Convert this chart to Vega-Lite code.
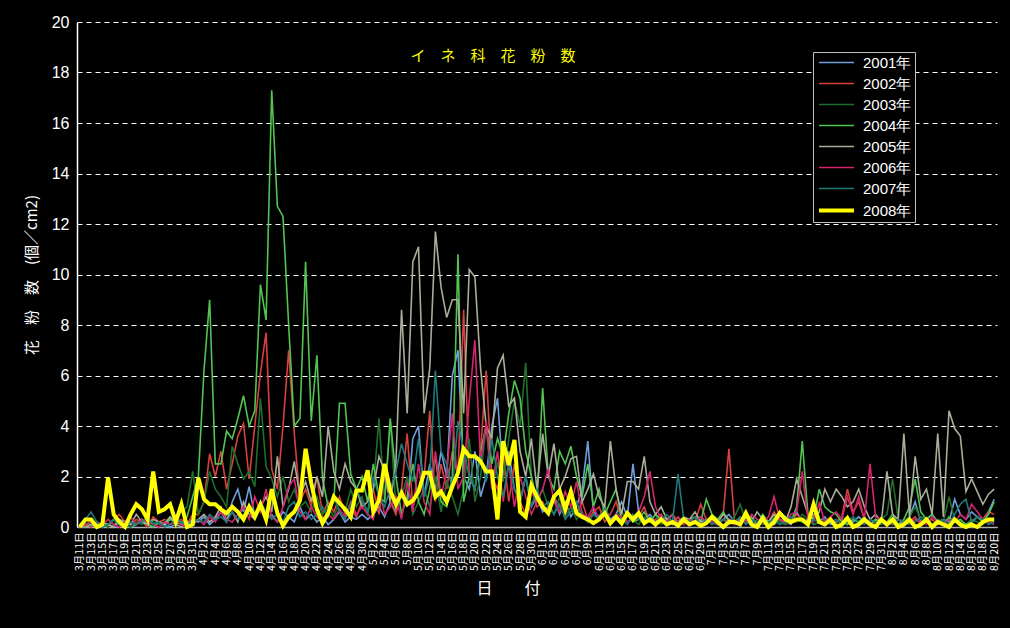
{
"$schema":"https://vega.github.io/schema/vega-lite/v6.json",
"width":920,"height":505,"autosize":"none",
"padding":{"left":77,"top":22,"right":13,"bottom":101},
"background":"#000000",
"config":{"view":{"stroke":null},"font":"Liberation Sans"},
"title":{"text":"イ　ネ　科　花　粉　数","color":"#ffff00","fontSize":15,"font":"Noto Sans CJK JP","fontWeight":"normal","anchor":"middle","frame":"group","offset":-50,"dx":-44},
"data":{"values":[
{"s":2001,"d":"3/11","v":0},{"s":2001,"d":"3/12","v":0.1},{"s":2001,"d":"3/13","v":0},{"s":2001,"d":"3/14","v":0.2},{"s":2001,"d":"3/15","v":0},{"s":2001,"d":"3/16","v":0.1},{"s":2001,"d":"3/17","v":0},{"s":2001,"d":"3/18","v":0.2},{"s":2001,"d":"3/19","v":0.1},{"s":2001,"d":"3/20","v":0},{"s":2001,"d":"3/21","v":0.1},{"s":2001,"d":"3/22","v":0.3},{"s":2001,"d":"3/23","v":0.1},{"s":2001,"d":"3/24","v":0},{"s":2001,"d":"3/25","v":0.2},{"s":2001,"d":"3/26","v":0.1},{"s":2001,"d":"3/27","v":0},{"s":2001,"d":"3/28","v":0.1},{"s":2001,"d":"3/29","v":0.2},{"s":2001,"d":"3/30","v":0.1},{"s":2001,"d":"3/31","v":0.3},
{"s":2001,"d":"4/1","v":0.2},{"s":2001,"d":"4/2","v":0.4},{"s":2001,"d":"4/3","v":0.1},{"s":2001,"d":"4/4","v":0.3},{"s":2001,"d":"4/5","v":0.6},{"s":2001,"d":"4/6","v":0.2},{"s":2001,"d":"4/7","v":1.0},{"s":2001,"d":"4/8","v":1.5},{"s":2001,"d":"4/9","v":0.6},{"s":2001,"d":"4/10","v":1.6},{"s":2001,"d":"4/11","v":0.4},{"s":2001,"d":"4/12","v":0.8},{"s":2001,"d":"4/13","v":0.3},{"s":2001,"d":"4/14","v":0.5},{"s":2001,"d":"4/15","v":0.2},{"s":2001,"d":"4/16","v":0.6},{"s":2001,"d":"4/17","v":0.4},{"s":2001,"d":"4/18","v":0.2},{"s":2001,"d":"4/19","v":0.8},{"s":2001,"d":"4/20","v":0.3},{"s":2001,"d":"4/21","v":0.5},{"s":2001,"d":"4/22","v":0.2},{"s":2001,"d":"4/23","v":0.4},{"s":2001,"d":"4/24","v":0.1},{"s":2001,"d":"4/25","v":0.3},{"s":2001,"d":"4/26","v":0.6},{"s":2001,"d":"4/27","v":0.2},{"s":2001,"d":"4/28","v":0.4},{"s":2001,"d":"4/29","v":0.3},{"s":2001,"d":"4/30","v":0.5},
{"s":2001,"d":"5/1","v":0.3},{"s":2001,"d":"5/2","v":0.5},{"s":2001,"d":"5/3","v":0.8},{"s":2001,"d":"5/4","v":0.4},{"s":2001,"d":"5/5","v":1.0},{"s":2001,"d":"5/6","v":0.6},{"s":2001,"d":"5/7","v":1.5},{"s":2001,"d":"5/8","v":0.8},{"s":2001,"d":"5/9","v":3.5},{"s":2001,"d":"5/10","v":4.0},{"s":2001,"d":"5/11","v":1.2},{"s":2001,"d":"5/12","v":2.5},{"s":2001,"d":"5/13","v":1.5},{"s":2001,"d":"5/14","v":3.0},{"s":2001,"d":"5/15","v":2.0},{"s":2001,"d":"5/16","v":6.0},{"s":2001,"d":"5/17","v":7.0},{"s":2001,"d":"5/18","v":2.0},{"s":2001,"d":"5/19","v":1.5},{"s":2001,"d":"5/20","v":3.0},{"s":2001,"d":"5/21","v":1.2},{"s":2001,"d":"5/22","v":2.0},{"s":2001,"d":"5/23","v":4.0},{"s":2001,"d":"5/24","v":5.1},{"s":2001,"d":"5/25","v":2.0},{"s":2001,"d":"5/26","v":3.0},{"s":2001,"d":"5/27","v":1.5},{"s":2001,"d":"5/28","v":1.0},{"s":2001,"d":"5/29","v":2.0},{"s":2001,"d":"5/30","v":0.8},{"s":2001,"d":"5/31","v":1.2},
{"s":2001,"d":"6/1","v":0.6},{"s":2001,"d":"6/2","v":0.8},{"s":2001,"d":"6/3","v":1.2},{"s":2001,"d":"6/4","v":0.5},{"s":2001,"d":"6/5","v":1.0},{"s":2001,"d":"6/6","v":0.4},{"s":2001,"d":"6/7","v":0.8},{"s":2001,"d":"6/8","v":1.5},{"s":2001,"d":"6/9","v":3.4},{"s":2001,"d":"6/10","v":0.6},{"s":2001,"d":"6/11","v":0.4},{"s":2001,"d":"6/12","v":0.8},{"s":2001,"d":"6/13","v":0.3},{"s":2001,"d":"6/14","v":0.5},{"s":2001,"d":"6/15","v":1.0},{"s":2001,"d":"6/16","v":0.4},{"s":2001,"d":"6/17","v":2.5},{"s":2001,"d":"6/18","v":0.6},{"s":2001,"d":"6/19","v":0.3},{"s":2001,"d":"6/20","v":0.5},{"s":2001,"d":"6/21","v":0.2},{"s":2001,"d":"6/22","v":0.4},{"s":2001,"d":"6/23","v":0.3},{"s":2001,"d":"6/24","v":0.1},{"s":2001,"d":"6/25","v":0.2},{"s":2001,"d":"6/26","v":0.3},{"s":2001,"d":"6/27","v":0.1},{"s":2001,"d":"6/28","v":0.2},{"s":2001,"d":"6/29","v":0.4},{"s":2001,"d":"6/30","v":0.2},
{"s":2001,"d":"7/1","v":0.2},{"s":2001,"d":"7/2","v":0.1},{"s":2001,"d":"7/3","v":0.3},{"s":2001,"d":"7/4","v":0.5},{"s":2001,"d":"7/5","v":0.2},{"s":2001,"d":"7/6","v":0.1},{"s":2001,"d":"7/7","v":0.3},{"s":2001,"d":"7/8","v":0.2},{"s":2001,"d":"7/9","v":0.1},{"s":2001,"d":"7/10","v":0.4},{"s":2001,"d":"7/11","v":0.2},{"s":2001,"d":"7/12","v":0.1},{"s":2001,"d":"7/13","v":0.3},{"s":2001,"d":"7/14","v":0.2},{"s":2001,"d":"7/15","v":0.1},{"s":2001,"d":"7/16","v":0.6},{"s":2001,"d":"7/17","v":0.2},{"s":2001,"d":"7/18","v":0.3},{"s":2001,"d":"7/19","v":0.1},{"s":2001,"d":"7/20","v":0.2},{"s":2001,"d":"7/21","v":0.4},{"s":2001,"d":"7/22","v":0.1},{"s":2001,"d":"7/23","v":0.2},{"s":2001,"d":"7/24","v":0.3},{"s":2001,"d":"7/25","v":0.1},{"s":2001,"d":"7/26","v":0.2},{"s":2001,"d":"7/27","v":0.4},{"s":2001,"d":"7/28","v":0.2},{"s":2001,"d":"7/29","v":0.1},{"s":2001,"d":"7/30","v":0.3},{"s":2001,"d":"7/31","v":0.2},
{"s":2001,"d":"8/1","v":0.2},{"s":2001,"d":"8/2","v":0.3},{"s":2001,"d":"8/3","v":0.1},{"s":2001,"d":"8/4","v":0.2},{"s":2001,"d":"8/5","v":0.4},{"s":2001,"d":"8/6","v":1.0},{"s":2001,"d":"8/7","v":0.2},{"s":2001,"d":"8/8","v":0.3},{"s":2001,"d":"8/9","v":0.5},{"s":2001,"d":"8/10","v":0.2},{"s":2001,"d":"8/11","v":0.3},{"s":2001,"d":"8/12","v":0.2},{"s":2001,"d":"8/13","v":1.1},{"s":2001,"d":"8/14","v":0.5},{"s":2001,"d":"8/15","v":0.3},{"s":2001,"d":"8/16","v":0.6},{"s":2001,"d":"8/17","v":0.4},{"s":2001,"d":"8/18","v":0.3},{"s":2001,"d":"8/19","v":0.6},{"s":2001,"d":"8/20","v":1.1},
{"s":2002,"d":"3/11","v":0},{"s":2002,"d":"3/12","v":0.1},{"s":2002,"d":"3/13","v":0},{"s":2002,"d":"3/14","v":0.2},{"s":2002,"d":"3/15","v":0.1},{"s":2002,"d":"3/16","v":0},{"s":2002,"d":"3/17","v":0.3},{"s":2002,"d":"3/18","v":0.5},{"s":2002,"d":"3/19","v":0.2},{"s":2002,"d":"3/20","v":0.1},{"s":2002,"d":"3/21","v":0.3},{"s":2002,"d":"3/22","v":0.2},{"s":2002,"d":"3/23","v":0},{"s":2002,"d":"3/24","v":0.4},{"s":2002,"d":"3/25","v":0.2},{"s":2002,"d":"3/26","v":0.3},{"s":2002,"d":"3/27","v":0.1},{"s":2002,"d":"3/28","v":0.2},{"s":2002,"d":"3/29","v":0.3},{"s":2002,"d":"3/30","v":0.1},{"s":2002,"d":"3/31","v":0.5},
{"s":2002,"d":"4/1","v":0.5},{"s":2002,"d":"4/2","v":1.0},{"s":2002,"d":"4/3","v":2.9},{"s":2002,"d":"4/4","v":2.0},{"s":2002,"d":"4/5","v":3.0},{"s":2002,"d":"4/6","v":1.5},{"s":2002,"d":"4/7","v":2.5},{"s":2002,"d":"4/8","v":3.6},{"s":2002,"d":"4/9","v":4.1},{"s":2002,"d":"4/10","v":1.9},{"s":2002,"d":"4/11","v":4.0},{"s":2002,"d":"4/12","v":6.1},{"s":2002,"d":"4/13","v":7.7},{"s":2002,"d":"4/14","v":2.3},{"s":2002,"d":"4/15","v":1.5},{"s":2002,"d":"4/16","v":4.0},{"s":2002,"d":"4/17","v":7.0},{"s":2002,"d":"4/18","v":3.7},{"s":2002,"d":"4/19","v":1.0},{"s":2002,"d":"4/20","v":1.5},{"s":2002,"d":"4/21","v":0.8},{"s":2002,"d":"4/22","v":2.0},{"s":2002,"d":"4/23","v":0.5},{"s":2002,"d":"4/24","v":1.0},{"s":2002,"d":"4/25","v":0.6},{"s":2002,"d":"4/26","v":1.2},{"s":2002,"d":"4/27","v":0.5},{"s":2002,"d":"4/28","v":0.8},{"s":2002,"d":"4/29","v":0.4},{"s":2002,"d":"4/30","v":1.0},
{"s":2002,"d":"5/1","v":0.6},{"s":2002,"d":"5/2","v":1.5},{"s":2002,"d":"5/3","v":0.5},{"s":2002,"d":"5/4","v":2.0},{"s":2002,"d":"5/5","v":1.0},{"s":2002,"d":"5/6","v":0.5},{"s":2002,"d":"5/7","v":1.5},{"s":2002,"d":"5/8","v":3.7},{"s":2002,"d":"5/9","v":0.8},{"s":2002,"d":"5/10","v":1.5},{"s":2002,"d":"5/11","v":2.0},{"s":2002,"d":"5/12","v":4.6},{"s":2002,"d":"5/13","v":1.0},{"s":2002,"d":"5/14","v":2.5},{"s":2002,"d":"5/15","v":1.5},{"s":2002,"d":"5/16","v":3.0},{"s":2002,"d":"5/17","v":2.0},{"s":2002,"d":"5/18","v":8.6},{"s":2002,"d":"5/19","v":2.0},{"s":2002,"d":"5/20","v":1.5},{"s":2002,"d":"5/21","v":3.0},{"s":2002,"d":"5/22","v":6.2},{"s":2002,"d":"5/23","v":2.0},{"s":2002,"d":"5/24","v":1.5},{"s":2002,"d":"5/25","v":3.0},{"s":2002,"d":"5/26","v":1.0},{"s":2002,"d":"5/27","v":2.5},{"s":2002,"d":"5/28","v":1.0},{"s":2002,"d":"5/29","v":0.5},{"s":2002,"d":"5/30","v":1.5},{"s":2002,"d":"5/31","v":0.8},
{"s":2002,"d":"6/1","v":1.0},{"s":2002,"d":"6/2","v":0.5},{"s":2002,"d":"6/3","v":1.2},{"s":2002,"d":"6/4","v":0.8},{"s":2002,"d":"6/5","v":0.4},{"s":2002,"d":"6/6","v":1.6},{"s":2002,"d":"6/7","v":0.5},{"s":2002,"d":"6/8","v":1.0},{"s":2002,"d":"6/9","v":0.3},{"s":2002,"d":"6/10","v":0.6},{"s":2002,"d":"6/11","v":0.8},{"s":2002,"d":"6/12","v":0.2},{"s":2002,"d":"6/13","v":0.5},{"s":2002,"d":"6/14","v":1.0},{"s":2002,"d":"6/15","v":0.3},{"s":2002,"d":"6/16","v":0.6},{"s":2002,"d":"6/17","v":0.2},{"s":2002,"d":"6/18","v":0.4},{"s":2002,"d":"6/19","v":0.8},{"s":2002,"d":"6/20","v":0.2},{"s":2002,"d":"6/21","v":0.3},{"s":2002,"d":"6/22","v":0.5},{"s":2002,"d":"6/23","v":0.1},{"s":2002,"d":"6/24","v":0.2},{"s":2002,"d":"6/25","v":0.4},{"s":2002,"d":"6/26","v":0.1},{"s":2002,"d":"6/27","v":0.3},{"s":2002,"d":"6/28","v":0.2},{"s":2002,"d":"6/29","v":0.9},{"s":2002,"d":"6/30","v":0.3},
{"s":2002,"d":"7/1","v":0.3},{"s":2002,"d":"7/2","v":0.2},{"s":2002,"d":"7/3","v":0.5},{"s":2002,"d":"7/4","v":3.1},{"s":2002,"d":"7/5","v":0.2},{"s":2002,"d":"7/6","v":0.1},{"s":2002,"d":"7/7","v":0.3},{"s":2002,"d":"7/8","v":0.2},{"s":2002,"d":"7/9","v":0.1},{"s":2002,"d":"7/10","v":0.4},{"s":2002,"d":"7/11","v":0.2},{"s":2002,"d":"7/12","v":0.6},{"s":2002,"d":"7/13","v":0.3},{"s":2002,"d":"7/14","v":0.1},{"s":2002,"d":"7/15","v":0.2},{"s":2002,"d":"7/16","v":0.5},{"s":2002,"d":"7/17","v":0.3},{"s":2002,"d":"7/18","v":0.2},{"s":2002,"d":"7/19","v":0.5},{"s":2002,"d":"7/20","v":0.2},{"s":2002,"d":"7/21","v":0.1},{"s":2002,"d":"7/22","v":0.3},{"s":2002,"d":"7/23","v":0.2},{"s":2002,"d":"7/24","v":0.4},{"s":2002,"d":"7/25","v":1.5},{"s":2002,"d":"7/26","v":0.6},{"s":2002,"d":"7/27","v":1.0},{"s":2002,"d":"7/28","v":0.3},{"s":2002,"d":"7/29","v":0.2},{"s":2002,"d":"7/30","v":0.1},{"s":2002,"d":"7/31","v":0.2},
{"s":2002,"d":"8/1","v":0.2},{"s":2002,"d":"8/2","v":0.1},{"s":2002,"d":"8/3","v":0.3},{"s":2002,"d":"8/4","v":0.1},{"s":2002,"d":"8/5","v":0.2},{"s":2002,"d":"8/6","v":0.4},{"s":2002,"d":"8/7","v":0.1},{"s":2002,"d":"8/8","v":0.2},{"s":2002,"d":"8/9","v":0.3},{"s":2002,"d":"8/10","v":0.1},{"s":2002,"d":"8/11","v":0.2},{"s":2002,"d":"8/12","v":0.1},{"s":2002,"d":"8/13","v":0.3},{"s":2002,"d":"8/14","v":0.2},{"s":2002,"d":"8/15","v":0.1},{"s":2002,"d":"8/16","v":0.2},{"s":2002,"d":"8/17","v":0.4},{"s":2002,"d":"8/18","v":0.3},{"s":2002,"d":"8/19","v":0.6},{"s":2002,"d":"8/20","v":0.5},
{"s":2003,"d":"3/11","v":0},{"s":2003,"d":"3/12","v":0},{"s":2003,"d":"3/13","v":0.1},{"s":2003,"d":"3/14","v":0},{"s":2003,"d":"3/15","v":0.2},{"s":2003,"d":"3/16","v":0},{"s":2003,"d":"3/17","v":0.1},{"s":2003,"d":"3/18","v":0.3},{"s":2003,"d":"3/19","v":0.1},{"s":2003,"d":"3/20","v":0},{"s":2003,"d":"3/21","v":0.2},{"s":2003,"d":"3/22","v":0.1},{"s":2003,"d":"3/23","v":0.3},{"s":2003,"d":"3/24","v":0.2},{"s":2003,"d":"3/25","v":0.1},{"s":2003,"d":"3/26","v":0.2},{"s":2003,"d":"3/27","v":0.4},{"s":2003,"d":"3/28","v":0.3},{"s":2003,"d":"3/29","v":0.6},{"s":2003,"d":"3/30","v":0.8},{"s":2003,"d":"3/31","v":2.2},
{"s":2003,"d":"4/1","v":0.5},{"s":2003,"d":"4/2","v":1.0},{"s":2003,"d":"4/3","v":2.2},{"s":2003,"d":"4/4","v":1.5},{"s":2003,"d":"4/5","v":1.2},{"s":2003,"d":"4/6","v":0.8},{"s":2003,"d":"4/7","v":3.2},{"s":2003,"d":"4/8","v":2.5},{"s":2003,"d":"4/9","v":1.9},{"s":2003,"d":"4/10","v":2.2},{"s":2003,"d":"4/11","v":1.6},{"s":2003,"d":"4/12","v":5.1},{"s":2003,"d":"4/13","v":2.4},{"s":2003,"d":"4/14","v":1.9},{"s":2003,"d":"4/15","v":1.2},{"s":2003,"d":"4/16","v":2.0},{"s":2003,"d":"4/17","v":1.0},{"s":2003,"d":"4/18","v":1.5},{"s":2003,"d":"4/19","v":0.8},{"s":2003,"d":"4/20","v":1.0},{"s":2003,"d":"4/21","v":0.6},{"s":2003,"d":"4/22","v":1.2},{"s":2003,"d":"4/23","v":0.5},{"s":2003,"d":"4/24","v":0.8},{"s":2003,"d":"4/25","v":0.4},{"s":2003,"d":"4/26","v":1.0},{"s":2003,"d":"4/27","v":0.6},{"s":2003,"d":"4/28","v":1.5},{"s":2003,"d":"4/29","v":0.8},{"s":2003,"d":"4/30","v":1.2},
{"s":2003,"d":"5/1","v":0.5},{"s":2003,"d":"5/2","v":1.5},{"s":2003,"d":"5/3","v":4.3},{"s":2003,"d":"5/4","v":1.0},{"s":2003,"d":"5/5","v":4.2},{"s":2003,"d":"5/6","v":0.8},{"s":2003,"d":"5/7","v":1.2},{"s":2003,"d":"5/8","v":2.0},{"s":2003,"d":"5/9","v":0.5},{"s":2003,"d":"5/10","v":1.0},{"s":2003,"d":"5/11","v":1.5},{"s":2003,"d":"5/12","v":0.8},{"s":2003,"d":"5/13","v":2.0},{"s":2003,"d":"5/14","v":0.6},{"s":2003,"d":"5/15","v":1.8},{"s":2003,"d":"5/16","v":1.2},{"s":2003,"d":"5/17","v":0.5},{"s":2003,"d":"5/18","v":1.5},{"s":2003,"d":"5/19","v":3.5},{"s":2003,"d":"5/20","v":1.0},{"s":2003,"d":"5/21","v":2.0},{"s":2003,"d":"5/22","v":4.0},{"s":2003,"d":"5/23","v":1.5},{"s":2003,"d":"5/24","v":2.5},{"s":2003,"d":"5/25","v":1.8},{"s":2003,"d":"5/26","v":3.5},{"s":2003,"d":"5/27","v":5.0},{"s":2003,"d":"5/28","v":4.0},{"s":2003,"d":"5/29","v":6.5},{"s":2003,"d":"5/30","v":2.0},{"s":2003,"d":"5/31","v":1.0},
{"s":2003,"d":"6/1","v":1.5},{"s":2003,"d":"6/2","v":0.8},{"s":2003,"d":"6/3","v":0.5},{"s":2003,"d":"6/4","v":1.2},{"s":2003,"d":"6/5","v":0.4},{"s":2003,"d":"6/6","v":0.8},{"s":2003,"d":"6/7","v":0.3},{"s":2003,"d":"6/8","v":0.6},{"s":2003,"d":"6/9","v":0.2},{"s":2003,"d":"6/10","v":0.5},{"s":2003,"d":"6/11","v":0.3},{"s":2003,"d":"6/12","v":0.8},{"s":2003,"d":"6/13","v":0.2},{"s":2003,"d":"6/14","v":0.4},{"s":2003,"d":"6/15","v":0.6},{"s":2003,"d":"6/16","v":0.2},{"s":2003,"d":"6/17","v":0.3},{"s":2003,"d":"6/18","v":0.1},{"s":2003,"d":"6/19","v":0.4},{"s":2003,"d":"6/20","v":0.2},{"s":2003,"d":"6/21","v":0.5},{"s":2003,"d":"6/22","v":0.1},{"s":2003,"d":"6/23","v":0.3},{"s":2003,"d":"6/24","v":0.2},{"s":2003,"d":"6/25","v":0.1},{"s":2003,"d":"6/26","v":0.3},{"s":2003,"d":"6/27","v":0.2},{"s":2003,"d":"6/28","v":0.4},{"s":2003,"d":"6/29","v":0.1},{"s":2003,"d":"6/30","v":0.2},
{"s":2003,"d":"7/1","v":0.2},{"s":2003,"d":"7/2","v":0.1},{"s":2003,"d":"7/3","v":0.3},{"s":2003,"d":"7/4","v":0.2},{"s":2003,"d":"7/5","v":0.4},{"s":2003,"d":"7/6","v":0.9},{"s":2003,"d":"7/7","v":0.2},{"s":2003,"d":"7/8","v":0.1},{"s":2003,"d":"7/9","v":0.3},{"s":2003,"d":"7/10","v":0.2},{"s":2003,"d":"7/11","v":0.1},{"s":2003,"d":"7/12","v":0.4},{"s":2003,"d":"7/13","v":0.2},{"s":2003,"d":"7/14","v":0.1},{"s":2003,"d":"7/15","v":0.3},{"s":2003,"d":"7/16","v":0.2},{"s":2003,"d":"7/17","v":0.5},{"s":2003,"d":"7/18","v":0.3},{"s":2003,"d":"7/19","v":0.1},{"s":2003,"d":"7/20","v":0.2},{"s":2003,"d":"7/21","v":0.3},{"s":2003,"d":"7/22","v":0.2},{"s":2003,"d":"7/23","v":0.1},{"s":2003,"d":"7/24","v":0.4},{"s":2003,"d":"7/25","v":0.3},{"s":2003,"d":"7/26","v":0.1},{"s":2003,"d":"7/27","v":0.2},{"s":2003,"d":"7/28","v":0.3},{"s":2003,"d":"7/29","v":0.1},{"s":2003,"d":"7/30","v":0.2},{"s":2003,"d":"7/31","v":0.3},
{"s":2003,"d":"8/1","v":0.5},{"s":2003,"d":"8/2","v":1.9},{"s":2003,"d":"8/3","v":0.3},{"s":2003,"d":"8/4","v":0.2},{"s":2003,"d":"8/5","v":0.4},{"s":2003,"d":"8/6","v":0.8},{"s":2003,"d":"8/7","v":0.3},{"s":2003,"d":"8/8","v":0.2},{"s":2003,"d":"8/9","v":0.1},{"s":2003,"d":"8/10","v":0.3},{"s":2003,"d":"8/11","v":0.2},{"s":2003,"d":"8/12","v":1.2},{"s":2003,"d":"8/13","v":0.3},{"s":2003,"d":"8/14","v":0.2},{"s":2003,"d":"8/15","v":0.1},{"s":2003,"d":"8/16","v":0.3},{"s":2003,"d":"8/17","v":0.2},{"s":2003,"d":"8/18","v":0.1},{"s":2003,"d":"8/19","v":0.3},{"s":2003,"d":"8/20","v":0.2},
{"s":2004,"d":"3/11","v":0},{"s":2004,"d":"3/12","v":0.1},{"s":2004,"d":"3/13","v":0.2},{"s":2004,"d":"3/14","v":0.1},{"s":2004,"d":"3/15","v":0},{"s":2004,"d":"3/16","v":0.1},{"s":2004,"d":"3/17","v":0.3},{"s":2004,"d":"3/18","v":0.1},{"s":2004,"d":"3/19","v":0},{"s":2004,"d":"3/20","v":0.2},{"s":2004,"d":"3/21","v":0.1},{"s":2004,"d":"3/22","v":0.3},{"s":2004,"d":"3/23","v":0.1},{"s":2004,"d":"3/24","v":0},{"s":2004,"d":"3/25","v":0.2},{"s":2004,"d":"3/26","v":0.1},{"s":2004,"d":"3/27","v":0.3},{"s":2004,"d":"3/28","v":0.2},{"s":2004,"d":"3/29","v":0.1},{"s":2004,"d":"3/30","v":0.4},{"s":2004,"d":"3/31","v":1.2},
{"s":2004,"d":"4/1","v":2.0},{"s":2004,"d":"4/2","v":6.2},{"s":2004,"d":"4/3","v":9.0},{"s":2004,"d":"4/4","v":2.5},{"s":2004,"d":"4/5","v":2.5},{"s":2004,"d":"4/6","v":3.8},{"s":2004,"d":"4/7","v":3.5},{"s":2004,"d":"4/8","v":4.3},{"s":2004,"d":"4/9","v":5.2},{"s":2004,"d":"4/10","v":4.0},{"s":2004,"d":"4/11","v":4.6},{"s":2004,"d":"4/12","v":9.6},{"s":2004,"d":"4/13","v":8.2},{"s":2004,"d":"4/14","v":17.3},{"s":2004,"d":"4/15","v":12.7},{"s":2004,"d":"4/16","v":12.3},{"s":2004,"d":"4/17","v":8.0},{"s":2004,"d":"4/18","v":4.0},{"s":2004,"d":"4/19","v":4.3},{"s":2004,"d":"4/20","v":10.5},{"s":2004,"d":"4/21","v":4.2},{"s":2004,"d":"4/22","v":6.8},{"s":2004,"d":"4/23","v":1.9},{"s":2004,"d":"4/24","v":0.8},{"s":2004,"d":"4/25","v":1.0},{"s":2004,"d":"4/26","v":4.9},{"s":2004,"d":"4/27","v":4.9},{"s":2004,"d":"4/28","v":2.1},{"s":2004,"d":"4/29","v":1.5},{"s":2004,"d":"4/30","v":2.0},
{"s":2004,"d":"5/1","v":1.0},{"s":2004,"d":"5/2","v":2.5},{"s":2004,"d":"5/3","v":1.2},{"s":2004,"d":"5/4","v":1.0},{"s":2004,"d":"5/5","v":4.3},{"s":2004,"d":"5/6","v":2.0},{"s":2004,"d":"5/7","v":0.5},{"s":2004,"d":"5/8","v":1.2},{"s":2004,"d":"5/9","v":2.5},{"s":2004,"d":"5/10","v":1.0},{"s":2004,"d":"5/11","v":0.5},{"s":2004,"d":"5/12","v":1.5},{"s":2004,"d":"5/13","v":2.8},{"s":2004,"d":"5/14","v":1.0},{"s":2004,"d":"5/15","v":0.8},{"s":2004,"d":"5/16","v":2.0},{"s":2004,"d":"5/17","v":10.8},{"s":2004,"d":"5/18","v":1.0},{"s":2004,"d":"5/19","v":2.0},{"s":2004,"d":"5/20","v":1.5},{"s":2004,"d":"5/21","v":3.0},{"s":2004,"d":"5/22","v":4.0},{"s":2004,"d":"5/23","v":2.5},{"s":2004,"d":"5/24","v":3.5},{"s":2004,"d":"5/25","v":2.8},{"s":2004,"d":"5/26","v":4.5},{"s":2004,"d":"5/27","v":5.8},{"s":2004,"d":"5/28","v":5.1},{"s":2004,"d":"5/29","v":3.0},{"s":2004,"d":"5/30","v":2.0},{"s":2004,"d":"5/31","v":1.0},
{"s":2004,"d":"6/1","v":5.5},{"s":2004,"d":"6/2","v":2.0},{"s":2004,"d":"6/3","v":1.5},{"s":2004,"d":"6/4","v":3.0},{"s":2004,"d":"6/5","v":2.5},{"s":2004,"d":"6/6","v":3.2},{"s":2004,"d":"6/7","v":2.0},{"s":2004,"d":"6/8","v":1.2},{"s":2004,"d":"6/9","v":2.5},{"s":2004,"d":"6/10","v":0.8},{"s":2004,"d":"6/11","v":1.5},{"s":2004,"d":"6/12","v":0.5},{"s":2004,"d":"6/13","v":1.0},{"s":2004,"d":"6/14","v":1.5},{"s":2004,"d":"6/15","v":0.3},{"s":2004,"d":"6/16","v":0.5},{"s":2004,"d":"6/17","v":0.2},{"s":2004,"d":"6/18","v":0.3},{"s":2004,"d":"6/19","v":0.6},{"s":2004,"d":"6/20","v":0.2},{"s":2004,"d":"6/21","v":0.5},{"s":2004,"d":"6/22","v":0.3},{"s":2004,"d":"6/23","v":0.2},{"s":2004,"d":"6/24","v":0.5},{"s":2004,"d":"6/25","v":0.1},{"s":2004,"d":"6/26","v":0.2},{"s":2004,"d":"6/27","v":0.3},{"s":2004,"d":"6/28","v":0.4},{"s":2004,"d":"6/29","v":0.2},{"s":2004,"d":"6/30","v":1.1},
{"s":2004,"d":"7/1","v":0.5},{"s":2004,"d":"7/2","v":0.3},{"s":2004,"d":"7/3","v":0.6},{"s":2004,"d":"7/4","v":0.2},{"s":2004,"d":"7/5","v":0.1},{"s":2004,"d":"7/6","v":0.3},{"s":2004,"d":"7/7","v":0.2},{"s":2004,"d":"7/8","v":0.4},{"s":2004,"d":"7/9","v":0.1},{"s":2004,"d":"7/10","v":0.5},{"s":2004,"d":"7/11","v":0.2},{"s":2004,"d":"7/12","v":0.3},{"s":2004,"d":"7/13","v":0.6},{"s":2004,"d":"7/14","v":0.4},{"s":2004,"d":"7/15","v":0.2},{"s":2004,"d":"7/16","v":0.8},{"s":2004,"d":"7/17","v":3.4},{"s":2004,"d":"7/18","v":0.5},{"s":2004,"d":"7/19","v":0.3},{"s":2004,"d":"7/20","v":1.5},{"s":2004,"d":"7/21","v":0.8},{"s":2004,"d":"7/22","v":0.6},{"s":2004,"d":"7/23","v":0.5},{"s":2004,"d":"7/24","v":0.2},{"s":2004,"d":"7/25","v":0.1},{"s":2004,"d":"7/26","v":0.3},{"s":2004,"d":"7/27","v":0.2},{"s":2004,"d":"7/28","v":0.4},{"s":2004,"d":"7/29","v":0.1},{"s":2004,"d":"7/30","v":0.3},{"s":2004,"d":"7/31","v":0.2},
{"s":2004,"d":"8/1","v":0.2},{"s":2004,"d":"8/2","v":0.5},{"s":2004,"d":"8/3","v":0.1},{"s":2004,"d":"8/4","v":0.3},{"s":2004,"d":"8/5","v":0.8},{"s":2004,"d":"8/6","v":1.9},{"s":2004,"d":"8/7","v":0.6},{"s":2004,"d":"8/8","v":0.3},{"s":2004,"d":"8/9","v":0.5},{"s":2004,"d":"8/10","v":0.2},{"s":2004,"d":"8/11","v":0.1},{"s":2004,"d":"8/12","v":0.4},{"s":2004,"d":"8/13","v":0.2},{"s":2004,"d":"8/14","v":0.3},{"s":2004,"d":"8/15","v":0.1},{"s":2004,"d":"8/16","v":0.2},{"s":2004,"d":"8/17","v":0.4},{"s":2004,"d":"8/18","v":0.2},{"s":2004,"d":"8/19","v":0.5},{"s":2004,"d":"8/20","v":1.0},
{"s":2005,"d":"3/11","v":0},{"s":2005,"d":"3/12","v":0},{"s":2005,"d":"3/13","v":0.1},{"s":2005,"d":"3/14","v":0},{"s":2005,"d":"3/15","v":0.2},{"s":2005,"d":"3/16","v":0.1},{"s":2005,"d":"3/17","v":0},{"s":2005,"d":"3/18","v":0.3},{"s":2005,"d":"3/19","v":0.2},{"s":2005,"d":"3/20","v":0.1},{"s":2005,"d":"3/21","v":0.5},{"s":2005,"d":"3/22","v":0.2},{"s":2005,"d":"3/23","v":0.1},{"s":2005,"d":"3/24","v":0.3},{"s":2005,"d":"3/25","v":0.2},{"s":2005,"d":"3/26","v":0.1},{"s":2005,"d":"3/27","v":0.4},{"s":2005,"d":"3/28","v":0.1},{"s":2005,"d":"3/29","v":0},{"s":2005,"d":"3/30","v":0.2},{"s":2005,"d":"3/31","v":0.1},
{"s":2005,"d":"4/1","v":0.3},{"s":2005,"d":"4/2","v":0.5},{"s":2005,"d":"4/3","v":0.2},{"s":2005,"d":"4/4","v":0.4},{"s":2005,"d":"4/5","v":0.8},{"s":2005,"d":"4/6","v":0.3},{"s":2005,"d":"4/7","v":0.6},{"s":2005,"d":"4/8","v":0.2},{"s":2005,"d":"4/9","v":1.0},{"s":2005,"d":"4/10","v":0.5},{"s":2005,"d":"4/11","v":0.3},{"s":2005,"d":"4/12","v":0.8},{"s":2005,"d":"4/13","v":1.2},{"s":2005,"d":"4/14","v":0.6},{"s":2005,"d":"4/15","v":2.8},{"s":2005,"d":"4/16","v":0.8},{"s":2005,"d":"4/17","v":1.5},{"s":2005,"d":"4/18","v":2.6},{"s":2005,"d":"4/19","v":1.2},{"s":2005,"d":"4/20","v":1.8},{"s":2005,"d":"4/21","v":1.0},{"s":2005,"d":"4/22","v":2.0},{"s":2005,"d":"4/23","v":1.2},{"s":2005,"d":"4/24","v":4.0},{"s":2005,"d":"4/25","v":2.2},{"s":2005,"d":"4/26","v":1.5},{"s":2005,"d":"4/27","v":2.5},{"s":2005,"d":"4/28","v":1.8},{"s":2005,"d":"4/29","v":1.5},{"s":2005,"d":"4/30","v":0.8},
{"s":2005,"d":"5/1","v":1.0},{"s":2005,"d":"5/2","v":1.5},{"s":2005,"d":"5/3","v":2.8},{"s":2005,"d":"5/4","v":2.2},{"s":2005,"d":"5/5","v":1.0},{"s":2005,"d":"5/6","v":2.5},{"s":2005,"d":"5/7","v":8.6},{"s":2005,"d":"5/8","v":4.5},{"s":2005,"d":"5/9","v":10.5},{"s":2005,"d":"5/10","v":11.1},{"s":2005,"d":"5/11","v":4.5},{"s":2005,"d":"5/12","v":6.3},{"s":2005,"d":"5/13","v":11.7},{"s":2005,"d":"5/14","v":9.5},{"s":2005,"d":"5/15","v":8.3},{"s":2005,"d":"5/16","v":9.0},{"s":2005,"d":"5/17","v":9.0},{"s":2005,"d":"5/18","v":4.5},{"s":2005,"d":"5/19","v":10.2},{"s":2005,"d":"5/20","v":9.9},{"s":2005,"d":"5/21","v":6.3},{"s":2005,"d":"5/22","v":4.0},{"s":2005,"d":"5/23","v":3.5},{"s":2005,"d":"5/24","v":6.3},{"s":2005,"d":"5/25","v":6.8},{"s":2005,"d":"5/26","v":4.8},{"s":2005,"d":"5/27","v":5.1},{"s":2005,"d":"5/28","v":3.0},{"s":2005,"d":"5/29","v":2.0},{"s":2005,"d":"5/30","v":3.5},{"s":2005,"d":"5/31","v":1.5},
{"s":2005,"d":"6/1","v":3.7},{"s":2005,"d":"6/2","v":2.0},{"s":2005,"d":"6/3","v":3.3},{"s":2005,"d":"6/4","v":1.5},{"s":2005,"d":"6/5","v":2.0},{"s":2005,"d":"6/6","v":2.7},{"s":2005,"d":"6/7","v":2.8},{"s":2005,"d":"6/8","v":1.0},{"s":2005,"d":"6/9","v":1.5},{"s":2005,"d":"6/10","v":2.1},{"s":2005,"d":"6/11","v":1.2},{"s":2005,"d":"6/12","v":0.8},{"s":2005,"d":"6/13","v":3.4},{"s":2005,"d":"6/14","v":1.5},{"s":2005,"d":"6/15","v":0.5},{"s":2005,"d":"6/16","v":1.8},{"s":2005,"d":"6/17","v":1.8},{"s":2005,"d":"6/18","v":1.5},{"s":2005,"d":"6/19","v":2.8},{"s":2005,"d":"6/20","v":1.0},{"s":2005,"d":"6/21","v":0.5},{"s":2005,"d":"6/22","v":0.8},{"s":2005,"d":"6/23","v":0.3},{"s":2005,"d":"6/24","v":0.5},{"s":2005,"d":"6/25","v":0.2},{"s":2005,"d":"6/26","v":0.4},{"s":2005,"d":"6/27","v":0.3},{"s":2005,"d":"6/28","v":0.6},{"s":2005,"d":"6/29","v":0.2},{"s":2005,"d":"6/30","v":0.3},
{"s":2005,"d":"7/1","v":0.3},{"s":2005,"d":"7/2","v":0.2},{"s":2005,"d":"7/3","v":0.5},{"s":2005,"d":"7/4","v":0.3},{"s":2005,"d":"7/5","v":0.2},{"s":2005,"d":"7/6","v":0.1},{"s":2005,"d":"7/7","v":0.4},{"s":2005,"d":"7/8","v":0.2},{"s":2005,"d":"7/9","v":0.6},{"s":2005,"d":"7/10","v":0.3},{"s":2005,"d":"7/11","v":0.2},{"s":2005,"d":"7/12","v":0.5},{"s":2005,"d":"7/13","v":0.3},{"s":2005,"d":"7/14","v":0.2},{"s":2005,"d":"7/15","v":0.8},{"s":2005,"d":"7/16","v":1.9},{"s":2005,"d":"7/17","v":1.2},{"s":2005,"d":"7/18","v":0.5},{"s":2005,"d":"7/19","v":0.3},{"s":2005,"d":"7/20","v":0.6},{"s":2005,"d":"7/21","v":1.5},{"s":2005,"d":"7/22","v":1.0},{"s":2005,"d":"7/23","v":1.5},{"s":2005,"d":"7/24","v":1.2},{"s":2005,"d":"7/25","v":0.8},{"s":2005,"d":"7/26","v":1.0},{"s":2005,"d":"7/27","v":1.5},{"s":2005,"d":"7/28","v":0.8},{"s":2005,"d":"7/29","v":0.3},{"s":2005,"d":"7/30","v":0.5},{"s":2005,"d":"7/31","v":0.2},
{"s":2005,"d":"8/1","v":2.2},{"s":2005,"d":"8/2","v":0.5},{"s":2005,"d":"8/3","v":0.3},{"s":2005,"d":"8/4","v":3.7},{"s":2005,"d":"8/5","v":0.4},{"s":2005,"d":"8/6","v":2.8},{"s":2005,"d":"8/7","v":1.1},{"s":2005,"d":"8/8","v":1.5},{"s":2005,"d":"8/9","v":0.5},{"s":2005,"d":"8/10","v":3.7},{"s":2005,"d":"8/11","v":0.4},{"s":2005,"d":"8/12","v":4.6},{"s":2005,"d":"8/13","v":3.9},{"s":2005,"d":"8/14","v":3.6},{"s":2005,"d":"8/15","v":1.4},{"s":2005,"d":"8/16","v":1.9},{"s":2005,"d":"8/17","v":1.4},{"s":2005,"d":"8/18","v":0.9},{"s":2005,"d":"8/19","v":1.3},{"s":2005,"d":"8/20","v":1.5},
{"s":2006,"d":"3/11","v":0},{"s":2006,"d":"3/12","v":0.1},{"s":2006,"d":"3/13","v":0.2},{"s":2006,"d":"3/14","v":0},{"s":2006,"d":"3/15","v":0.1},{"s":2006,"d":"3/16","v":0.3},{"s":2006,"d":"3/17","v":0.1},{"s":2006,"d":"3/18","v":0},{"s":2006,"d":"3/19","v":0.2},{"s":2006,"d":"3/20","v":0.4},{"s":2006,"d":"3/21","v":0.1},{"s":2006,"d":"3/22","v":0.3},{"s":2006,"d":"3/23","v":0.2},{"s":2006,"d":"3/24","v":0.1},{"s":2006,"d":"3/25","v":0},{"s":2006,"d":"3/26","v":0.2},{"s":2006,"d":"3/27","v":0.1},{"s":2006,"d":"3/28","v":0.3},{"s":2006,"d":"3/29","v":0.1},{"s":2006,"d":"3/30","v":0},{"s":2006,"d":"3/31","v":0.2},
{"s":2006,"d":"4/1","v":0.3},{"s":2006,"d":"4/2","v":0.1},{"s":2006,"d":"4/3","v":0.4},{"s":2006,"d":"4/4","v":0.2},{"s":2006,"d":"4/5","v":0.6},{"s":2006,"d":"4/6","v":0.3},{"s":2006,"d":"4/7","v":0.2},{"s":2006,"d":"4/8","v":0.5},{"s":2006,"d":"4/9","v":0.8},{"s":2006,"d":"4/10","v":0.3},{"s":2006,"d":"4/11","v":1.2},{"s":2006,"d":"4/12","v":0.6},{"s":2006,"d":"4/13","v":1.5},{"s":2006,"d":"4/14","v":0.4},{"s":2006,"d":"4/15","v":0.2},{"s":2006,"d":"4/16","v":0.8},{"s":2006,"d":"4/17","v":1.6},{"s":2006,"d":"4/18","v":1.9},{"s":2006,"d":"4/19","v":0.6},{"s":2006,"d":"4/20","v":0.3},{"s":2006,"d":"4/21","v":0.8},{"s":2006,"d":"4/22","v":0.4},{"s":2006,"d":"4/23","v":0.2},{"s":2006,"d":"4/24","v":0.5},{"s":2006,"d":"4/25","v":0.3},{"s":2006,"d":"4/26","v":0.7},{"s":2006,"d":"4/27","v":0.4},{"s":2006,"d":"4/28","v":1.0},{"s":2006,"d":"4/29","v":0.5},{"s":2006,"d":"4/30","v":0.8},
{"s":2006,"d":"5/1","v":0.5},{"s":2006,"d":"5/2","v":0.3},{"s":2006,"d":"5/3","v":1.5},{"s":2006,"d":"5/4","v":0.5},{"s":2006,"d":"5/5","v":0.8},{"s":2006,"d":"5/6","v":1.2},{"s":2006,"d":"5/7","v":0.3},{"s":2006,"d":"5/8","v":1.8},{"s":2006,"d":"5/9","v":0.6},{"s":2006,"d":"5/10","v":2.5},{"s":2006,"d":"5/11","v":1.0},{"s":2006,"d":"5/12","v":0.5},{"s":2006,"d":"5/13","v":3.0},{"s":2006,"d":"5/14","v":1.2},{"s":2006,"d":"5/15","v":2.2},{"s":2006,"d":"5/16","v":4.5},{"s":2006,"d":"5/17","v":1.5},{"s":2006,"d":"5/18","v":2.0},{"s":2006,"d":"5/19","v":5.0},{"s":2006,"d":"5/20","v":7.4},{"s":2006,"d":"5/21","v":2.5},{"s":2006,"d":"5/22","v":4.2},{"s":2006,"d":"5/23","v":1.5},{"s":2006,"d":"5/24","v":3.0},{"s":2006,"d":"5/25","v":1.0},{"s":2006,"d":"5/26","v":2.5},{"s":2006,"d":"5/27","v":0.8},{"s":2006,"d":"5/28","v":2.0},{"s":2006,"d":"5/29","v":1.2},{"s":2006,"d":"5/30","v":0.5},{"s":2006,"d":"5/31","v":1.0},
{"s":2006,"d":"6/1","v":1.5},{"s":2006,"d":"6/2","v":2.3},{"s":2006,"d":"6/3","v":1.0},{"s":2006,"d":"6/4","v":0.6},{"s":2006,"d":"6/5","v":1.4},{"s":2006,"d":"6/6","v":0.8},{"s":2006,"d":"6/7","v":1.8},{"s":2006,"d":"6/8","v":0.5},{"s":2006,"d":"6/9","v":0.4},{"s":2006,"d":"6/10","v":0.8},{"s":2006,"d":"6/11","v":0.3},{"s":2006,"d":"6/12","v":0.6},{"s":2006,"d":"6/13","v":0.2},{"s":2006,"d":"6/14","v":0.5},{"s":2006,"d":"6/15","v":0.4},{"s":2006,"d":"6/16","v":0.2},{"s":2006,"d":"6/17","v":0.3},{"s":2006,"d":"6/18","v":0.6},{"s":2006,"d":"6/19","v":1.2},{"s":2006,"d":"6/20","v":2.2},{"s":2006,"d":"6/21","v":0.8},{"s":2006,"d":"6/22","v":0.3},{"s":2006,"d":"6/23","v":0.2},{"s":2006,"d":"6/24","v":0.5},{"s":2006,"d":"6/25","v":0.2},{"s":2006,"d":"6/26","v":0.1},{"s":2006,"d":"6/27","v":0.3},{"s":2006,"d":"6/28","v":0.2},{"s":2006,"d":"6/29","v":0.4},{"s":2006,"d":"6/30","v":0.2},
{"s":2006,"d":"7/1","v":0.2},{"s":2006,"d":"7/2","v":0.1},{"s":2006,"d":"7/3","v":0.3},{"s":2006,"d":"7/4","v":0.2},{"s":2006,"d":"7/5","v":0.1},{"s":2006,"d":"7/6","v":0.4},{"s":2006,"d":"7/7","v":0.2},{"s":2006,"d":"7/8","v":0.5},{"s":2006,"d":"7/9","v":0.3},{"s":2006,"d":"7/10","v":0.2},{"s":2006,"d":"7/11","v":0.4},{"s":2006,"d":"7/12","v":1.2},{"s":2006,"d":"7/13","v":0.3},{"s":2006,"d":"7/14","v":0.2},{"s":2006,"d":"7/15","v":0.5},{"s":2006,"d":"7/16","v":0.6},{"s":2006,"d":"7/17","v":2.2},{"s":2006,"d":"7/18","v":0.3},{"s":2006,"d":"7/19","v":0.2},{"s":2006,"d":"7/20","v":0.95},{"s":2006,"d":"7/21","v":0.2},{"s":2006,"d":"7/22","v":0.4},{"s":2006,"d":"7/23","v":0.6},{"s":2006,"d":"7/24","v":0.3},{"s":2006,"d":"7/25","v":1.2},{"s":2006,"d":"7/26","v":0.5},{"s":2006,"d":"7/27","v":1.2},{"s":2006,"d":"7/28","v":0.3},{"s":2006,"d":"7/29","v":2.5},{"s":2006,"d":"7/30","v":0.4},{"s":2006,"d":"7/31","v":0.3},
{"s":2006,"d":"8/1","v":0.2},{"s":2006,"d":"8/2","v":0.1},{"s":2006,"d":"8/3","v":0.3},{"s":2006,"d":"8/4","v":0.2},{"s":2006,"d":"8/5","v":0.1},{"s":2006,"d":"8/6","v":0.3},{"s":2006,"d":"8/7","v":0.2},{"s":2006,"d":"8/8","v":0.1},{"s":2006,"d":"8/9","v":0.4},{"s":2006,"d":"8/10","v":0.2},{"s":2006,"d":"8/11","v":0.1},{"s":2006,"d":"8/12","v":0.3},{"s":2006,"d":"8/13","v":0.2},{"s":2006,"d":"8/14","v":0.5},{"s":2006,"d":"8/15","v":0.3},{"s":2006,"d":"8/16","v":0.9},{"s":2006,"d":"8/17","v":0.6},{"s":2006,"d":"8/18","v":0.3},{"s":2006,"d":"8/19","v":0.2},{"s":2006,"d":"8/20","v":0.1},
{"s":2007,"d":"3/11","v":0.1},{"s":2007,"d":"3/12","v":0.3},{"s":2007,"d":"3/13","v":0.6},{"s":2007,"d":"3/14","v":0.2},{"s":2007,"d":"3/15","v":0},{"s":2007,"d":"3/16","v":0.1},{"s":2007,"d":"3/17","v":0.3},{"s":2007,"d":"3/18","v":0.1},{"s":2007,"d":"3/19","v":0},{"s":2007,"d":"3/20","v":0.2},{"s":2007,"d":"3/21","v":0.1},{"s":2007,"d":"3/22","v":0.2},{"s":2007,"d":"3/23","v":0.4},{"s":2007,"d":"3/24","v":0.1},{"s":2007,"d":"3/25","v":0.2},{"s":2007,"d":"3/26","v":0},{"s":2007,"d":"3/27","v":0.1},{"s":2007,"d":"3/28","v":0.3},{"s":2007,"d":"3/29","v":0.2},{"s":2007,"d":"3/30","v":0.1},{"s":2007,"d":"3/31","v":0.2},
{"s":2007,"d":"4/1","v":0.3},{"s":2007,"d":"4/2","v":0.2},{"s":2007,"d":"4/3","v":0.5},{"s":2007,"d":"4/4","v":0.3},{"s":2007,"d":"4/5","v":0.4},{"s":2007,"d":"4/6","v":0.2},{"s":2007,"d":"4/7","v":0.6},{"s":2007,"d":"4/8","v":0.3},{"s":2007,"d":"4/9","v":0.5},{"s":2007,"d":"4/10","v":0.8},{"s":2007,"d":"4/11","v":0.4},{"s":2007,"d":"4/12","v":1.0},{"s":2007,"d":"4/13","v":0.6},{"s":2007,"d":"4/14","v":0.3},{"s":2007,"d":"4/15","v":0.5},{"s":2007,"d":"4/16","v":0.2},{"s":2007,"d":"4/17","v":0.8},{"s":2007,"d":"4/18","v":1.0},{"s":2007,"d":"4/19","v":0.4},{"s":2007,"d":"4/20","v":0.6},{"s":2007,"d":"4/21","v":0.3},{"s":2007,"d":"4/22","v":0.5},{"s":2007,"d":"4/23","v":0.8},{"s":2007,"d":"4/24","v":0.4},{"s":2007,"d":"4/25","v":1.2},{"s":2007,"d":"4/26","v":0.6},{"s":2007,"d":"4/27","v":0.3},{"s":2007,"d":"4/28","v":0.9},{"s":2007,"d":"4/29","v":1.5},{"s":2007,"d":"4/30","v":1.0},
{"s":2007,"d":"5/1","v":0.6},{"s":2007,"d":"5/2","v":2.0},{"s":2007,"d":"5/3","v":1.2},{"s":2007,"d":"5/4","v":0.8},{"s":2007,"d":"5/5","v":1.5},{"s":2007,"d":"5/6","v":2.2},{"s":2007,"d":"5/7","v":3.3},{"s":2007,"d":"5/8","v":2.5},{"s":2007,"d":"5/9","v":1.8},{"s":2007,"d":"5/10","v":3.5},{"s":2007,"d":"5/11","v":1.2},{"s":2007,"d":"5/12","v":2.0},{"s":2007,"d":"5/13","v":6.2},{"s":2007,"d":"5/14","v":3.0},{"s":2007,"d":"5/15","v":2.5},{"s":2007,"d":"5/16","v":1.5},{"s":2007,"d":"5/17","v":4.2},{"s":2007,"d":"5/18","v":3.0},{"s":2007,"d":"5/19","v":2.0},{"s":2007,"d":"5/20","v":1.5},{"s":2007,"d":"5/21","v":2.8},{"s":2007,"d":"5/22","v":1.8},{"s":2007,"d":"5/23","v":3.5},{"s":2007,"d":"5/24","v":2.0},{"s":2007,"d":"5/25","v":1.2},{"s":2007,"d":"5/26","v":2.5},{"s":2007,"d":"5/27","v":1.5},{"s":2007,"d":"5/28","v":1.0},{"s":2007,"d":"5/29","v":2.0},{"s":2007,"d":"5/30","v":0.8},{"s":2007,"d":"5/31","v":1.5},
{"s":2007,"d":"6/1","v":0.8},{"s":2007,"d":"6/2","v":1.0},{"s":2007,"d":"6/3","v":0.5},{"s":2007,"d":"6/4","v":0.9},{"s":2007,"d":"6/5","v":0.3},{"s":2007,"d":"6/6","v":0.6},{"s":2007,"d":"6/7","v":1.0},{"s":2007,"d":"6/8","v":0.4},{"s":2007,"d":"6/9","v":0.2},{"s":2007,"d":"6/10","v":0.5},{"s":2007,"d":"6/11","v":0.3},{"s":2007,"d":"6/12","v":0.7},{"s":2007,"d":"6/13","v":0.2},{"s":2007,"d":"6/14","v":0.4},{"s":2007,"d":"6/15","v":0.3},{"s":2007,"d":"6/16","v":0.1},{"s":2007,"d":"6/17","v":0.5},{"s":2007,"d":"6/18","v":0.3},{"s":2007,"d":"6/19","v":0.2},{"s":2007,"d":"6/20","v":0.4},{"s":2007,"d":"6/21","v":0.1},{"s":2007,"d":"6/22","v":0.3},{"s":2007,"d":"6/23","v":0.5},{"s":2007,"d":"6/24","v":0.2},{"s":2007,"d":"6/25","v":2.1},{"s":2007,"d":"6/26","v":0.3},{"s":2007,"d":"6/27","v":0.2},{"s":2007,"d":"6/28","v":0.4},{"s":2007,"d":"6/29","v":0.1},{"s":2007,"d":"6/30","v":0.3},
{"s":2007,"d":"7/1","v":0.1},{"s":2007,"d":"7/2","v":0.2},{"s":2007,"d":"7/3","v":0.3},{"s":2007,"d":"7/4","v":0.1},{"s":2007,"d":"7/5","v":0.2},{"s":2007,"d":"7/6","v":0.4},{"s":2007,"d":"7/7","v":0.1},{"s":2007,"d":"7/8","v":0.3},{"s":2007,"d":"7/9","v":0.2},{"s":2007,"d":"7/10","v":0.1},{"s":2007,"d":"7/11","v":0.2},{"s":2007,"d":"7/12","v":0.3},{"s":2007,"d":"7/13","v":0.1},{"s":2007,"d":"7/14","v":0.2},{"s":2007,"d":"7/15","v":0.4},{"s":2007,"d":"7/16","v":0.3},{"s":2007,"d":"7/17","v":0.2},{"s":2007,"d":"7/18","v":0.1},{"s":2007,"d":"7/19","v":0.3},{"s":2007,"d":"7/20","v":0.2},{"s":2007,"d":"7/21","v":0.1},{"s":2007,"d":"7/22","v":0.2},{"s":2007,"d":"7/23","v":0.3},{"s":2007,"d":"7/24","v":0.1},{"s":2007,"d":"7/25","v":0.2},{"s":2007,"d":"7/26","v":0.4},{"s":2007,"d":"7/27","v":0.2},{"s":2007,"d":"7/28","v":0.1},{"s":2007,"d":"7/29","v":0.3},{"s":2007,"d":"7/30","v":0.2},{"s":2007,"d":"7/31","v":0.1},
{"s":2007,"d":"8/1","v":0.2},{"s":2007,"d":"8/2","v":0.1},{"s":2007,"d":"8/3","v":0.3},{"s":2007,"d":"8/4","v":0.2},{"s":2007,"d":"8/5","v":0.1},{"s":2007,"d":"8/6","v":0.2},{"s":2007,"d":"8/7","v":0.4},{"s":2007,"d":"8/8","v":0.3},{"s":2007,"d":"8/9","v":0.1},{"s":2007,"d":"8/10","v":0.2},{"s":2007,"d":"8/11","v":0.3},{"s":2007,"d":"8/12","v":0.1},{"s":2007,"d":"8/13","v":0.5},{"s":2007,"d":"8/14","v":0.9},{"s":2007,"d":"8/15","v":1.1},{"s":2007,"d":"8/16","v":0.2},{"s":2007,"d":"8/17","v":0.4},{"s":2007,"d":"8/18","v":0.3},{"s":2007,"d":"8/19","v":0.1},{"s":2007,"d":"8/20","v":0.2},
{"s":2008,"d":"3/11","v":0},{"s":2008,"d":"3/12","v":0.3},{"s":2008,"d":"3/13","v":0.3},{"s":2008,"d":"3/14","v":0},{"s":2008,"d":"3/15","v":0.1},{"s":2008,"d":"3/16","v":1.95},{"s":2008,"d":"3/17","v":0.5},{"s":2008,"d":"3/18","v":0.2},{"s":2008,"d":"3/19","v":0},{"s":2008,"d":"3/20","v":0.5},{"s":2008,"d":"3/21","v":0.9},{"s":2008,"d":"3/22","v":0.7},{"s":2008,"d":"3/23","v":0.3},{"s":2008,"d":"3/24","v":2.2},{"s":2008,"d":"3/25","v":0.6},{"s":2008,"d":"3/26","v":0.7},{"s":2008,"d":"3/27","v":0.9},{"s":2008,"d":"3/28","v":0.2},{"s":2008,"d":"3/29","v":0.9},{"s":2008,"d":"3/30","v":0},{"s":2008,"d":"3/31","v":0.1},
{"s":2008,"d":"4/1","v":1.95},{"s":2008,"d":"4/2","v":1.1},{"s":2008,"d":"4/3","v":0.9},{"s":2008,"d":"4/4","v":0.9},{"s":2008,"d":"4/5","v":0.7},{"s":2008,"d":"4/6","v":0.55},{"s":2008,"d":"4/7","v":0.8},{"s":2008,"d":"4/8","v":0.6},{"s":2008,"d":"4/9","v":0.3},{"s":2008,"d":"4/10","v":0.8},{"s":2008,"d":"4/11","v":0.4},{"s":2008,"d":"4/12","v":0.9},{"s":2008,"d":"4/13","v":0.3},{"s":2008,"d":"4/14","v":1.5},{"s":2008,"d":"4/15","v":0.55},{"s":2008,"d":"4/16","v":0.05},{"s":2008,"d":"4/17","v":0.4},{"s":2008,"d":"4/18","v":0.6},{"s":2008,"d":"4/19","v":1.05},{"s":2008,"d":"4/20","v":3.1},{"s":2008,"d":"4/21","v":1.75},{"s":2008,"d":"4/22","v":0.7},{"s":2008,"d":"4/23","v":0.15},{"s":2008,"d":"4/24","v":0.55},{"s":2008,"d":"4/25","v":1.2},{"s":2008,"d":"4/26","v":0.95},{"s":2008,"d":"4/27","v":0.7},{"s":2008,"d":"4/28","v":0.4},{"s":2008,"d":"4/29","v":1.45},{"s":2008,"d":"4/30","v":1.45},
{"s":2008,"d":"5/1","v":2.25},{"s":2008,"d":"5/2","v":0.6},{"s":2008,"d":"5/3","v":1.05},{"s":2008,"d":"5/4","v":2.5},{"s":2008,"d":"5/5","v":1.45},{"s":2008,"d":"5/6","v":0.9},{"s":2008,"d":"5/7","v":1.35},{"s":2008,"d":"5/8","v":0.9},{"s":2008,"d":"5/9","v":1.05},{"s":2008,"d":"5/10","v":1.4},{"s":2008,"d":"5/11","v":2.15},{"s":2008,"d":"5/12","v":2.15},{"s":2008,"d":"5/13","v":1.2},{"s":2008,"d":"5/14","v":1.4},{"s":2008,"d":"5/15","v":1.0},{"s":2008,"d":"5/16","v":1.6},{"s":2008,"d":"5/17","v":2.15},{"s":2008,"d":"5/18","v":3.1},{"s":2008,"d":"5/19","v":2.8},{"s":2008,"d":"5/20","v":2.8},{"s":2008,"d":"5/21","v":2.6},{"s":2008,"d":"5/22","v":2.2},{"s":2008,"d":"5/23","v":2.2},{"s":2008,"d":"5/24","v":0.3},{"s":2008,"d":"5/25","v":3.4},{"s":2008,"d":"5/26","v":2.45},{"s":2008,"d":"5/27","v":3.45},{"s":2008,"d":"5/28","v":0.6},{"s":2008,"d":"5/29","v":0.4},{"s":2008,"d":"5/30","v":1.65},{"s":2008,"d":"5/31","v":1.2},
{"s":2008,"d":"6/1","v":0.8},{"s":2008,"d":"6/2","v":0.55},{"s":2008,"d":"6/3","v":1.2},{"s":2008,"d":"6/4","v":1.45},{"s":2008,"d":"6/5","v":0.7},{"s":2008,"d":"6/6","v":1.4},{"s":2008,"d":"6/7","v":0.55},{"s":2008,"d":"6/8","v":0.4},{"s":2008,"d":"6/9","v":0.3},{"s":2008,"d":"6/10","v":0.15},{"s":2008,"d":"6/11","v":0.3},{"s":2008,"d":"6/12","v":0.55},{"s":2008,"d":"6/13","v":0.15},{"s":2008,"d":"6/14","v":0.4},{"s":2008,"d":"6/15","v":0.15},{"s":2008,"d":"6/16","v":0.55},{"s":2008,"d":"6/17","v":0.3},{"s":2008,"d":"6/18","v":0.55},{"s":2008,"d":"6/19","v":0.15},{"s":2008,"d":"6/20","v":0.3},{"s":2008,"d":"6/21","v":0.1},{"s":2008,"d":"6/22","v":0.3},{"s":2008,"d":"6/23","v":0.1},{"s":2008,"d":"6/24","v":0.2},{"s":2008,"d":"6/25","v":0.05},{"s":2008,"d":"6/26","v":0.3},{"s":2008,"d":"6/27","v":0.1},{"s":2008,"d":"6/28","v":0.2},{"s":2008,"d":"6/29","v":0.05},{"s":2008,"d":"6/30","v":0.15},
{"s":2008,"d":"7/1","v":0.4},{"s":2008,"d":"7/2","v":0.2},{"s":2008,"d":"7/3","v":0},{"s":2008,"d":"7/4","v":0.2},{"s":2008,"d":"7/5","v":0.2},{"s":2008,"d":"7/6","v":0.1},{"s":2008,"d":"7/7","v":0.55},{"s":2008,"d":"7/8","v":0.1},{"s":2008,"d":"7/9","v":0},{"s":2008,"d":"7/10","v":0.35},{"s":2008,"d":"7/11","v":0},{"s":2008,"d":"7/12","v":0.2},{"s":2008,"d":"7/13","v":0.55},{"s":2008,"d":"7/14","v":0.3},{"s":2008,"d":"7/15","v":0.2},{"s":2008,"d":"7/16","v":0.3},{"s":2008,"d":"7/17","v":0.3},{"s":2008,"d":"7/18","v":0.1},{"s":2008,"d":"7/19","v":0.9},{"s":2008,"d":"7/20","v":0.2},{"s":2008,"d":"7/21","v":0.1},{"s":2008,"d":"7/22","v":0.3},{"s":2008,"d":"7/23","v":0},{"s":2008,"d":"7/24","v":0.1},{"s":2008,"d":"7/25","v":0.35},{"s":2008,"d":"7/26","v":0},{"s":2008,"d":"7/27","v":0.1},{"s":2008,"d":"7/28","v":0.3},{"s":2008,"d":"7/29","v":0.1},{"s":2008,"d":"7/30","v":0},{"s":2008,"d":"7/31","v":0.3},
{"s":2008,"d":"8/1","v":0.1},{"s":2008,"d":"8/2","v":0.3},{"s":2008,"d":"8/3","v":0},{"s":2008,"d":"8/4","v":0.1},{"s":2008,"d":"8/5","v":0.3},{"s":2008,"d":"8/6","v":0},{"s":2008,"d":"8/7","v":0.1},{"s":2008,"d":"8/8","v":0.3},{"s":2008,"d":"8/9","v":0},{"s":2008,"d":"8/10","v":0.2},{"s":2008,"d":"8/11","v":0.1},{"s":2008,"d":"8/12","v":0},{"s":2008,"d":"8/13","v":0.3},{"s":2008,"d":"8/14","v":0.1},{"s":2008,"d":"8/15","v":0},{"s":2008,"d":"8/16","v":0.1},{"s":2008,"d":"8/17","v":0},{"s":2008,"d":"8/18","v":0.2},{"s":2008,"d":"8/19","v":0.3},{"s":2008,"d":"8/20","v":0.3}
]},
"mark":{"type":"line"},
"encoding":{
"x":{"field":"d","type":"ordinal","sort":null,"scale":{"type":"point","padding":0.5},
"axis":{"title":"日　　付","titleColor":"#ffffff","titleFontSize":16,"titleFont":"Noto Sans CJK JP","titleFontWeight":"normal","titlePadding":10,"titleX":431,"labelAngle":270,"labelFontSize":10.5,"labelFont":"Noto Sans CJK JP","labelColor":"#ffffff","labelPadding":5,"labelOverlap":false,"labelExpr":"round(datum.index*162)%2==0 ? replace(datum.value,'/','月')+'日' : ''","ticks":false,"domainColor":"#b0b0b0","domainWidth":1.5,"grid":false}},
"y":{"field":"v","type":"quantitative","scale":{"domain":[0,20],"nice":false},
"axis":{"values":[0,2,4,6,8,10,12,14,16,18,20],"title":"花　粉　数　(個／cm2)","titleColor":"#ffffff","titleFontSize":15,"titleFont":"Noto Sans CJK JP","titleFontWeight":"normal","titlePadding":12,"labelColor":"#ffffff","labelFontSize":16,"labelFont":"Liberation Sans","labelPadding":8,"ticks":false,"domainColor":"#ffffff","domainWidth":1.5,"grid":true,"gridColor":"#ffffff","gridDash":[5,4],"gridWidth":1}},
"color":{"field":"s","type":"nominal","scale":{"domain":[2001,2002,2003,2004,2005,2006,2007,2008],"range":["#6fa0dc","#d8413e","#1f6e2c","#52c452","#a8ae98","#d4246e","#207a7a","#ffff00"]},
"legend":{"title":null,"orient":"none","legendX":736,"legendY":30,"symbolType":"M-3.5,0H3.5","symbolSize":100,"symbolOffset":13,"labelOffset":19,"labelFontSize":15,"labelColor":"#ffffff","labelFont":"Liberation Sans","rowPadding":5,"padding":3,"strokeColor":"#c0c0c0","fillColor":"#000000","labelExpr":"datum.label+'年'"}},
"strokeWidth":{"field":"s","type":"ordinal","scale":{"type":"ordinal","domain":[2001,2002,2003,2004,2005,2006,2007,2008],"range":[1.6,1.6,1.6,1.6,1.6,1.6,1.6,4]},
"legend":{"title":null,"orient":"none","legendX":736,"legendY":30,"symbolType":"M-3.5,0H3.5","symbolSize":100,"symbolOffset":13,"labelOffset":19,"labelFontSize":15,"labelColor":"#ffffff","labelFont":"Liberation Sans","rowPadding":5,"padding":3,"strokeColor":"#c0c0c0","fillColor":"#000000","labelExpr":"datum.label+'年'"}}
}
}
